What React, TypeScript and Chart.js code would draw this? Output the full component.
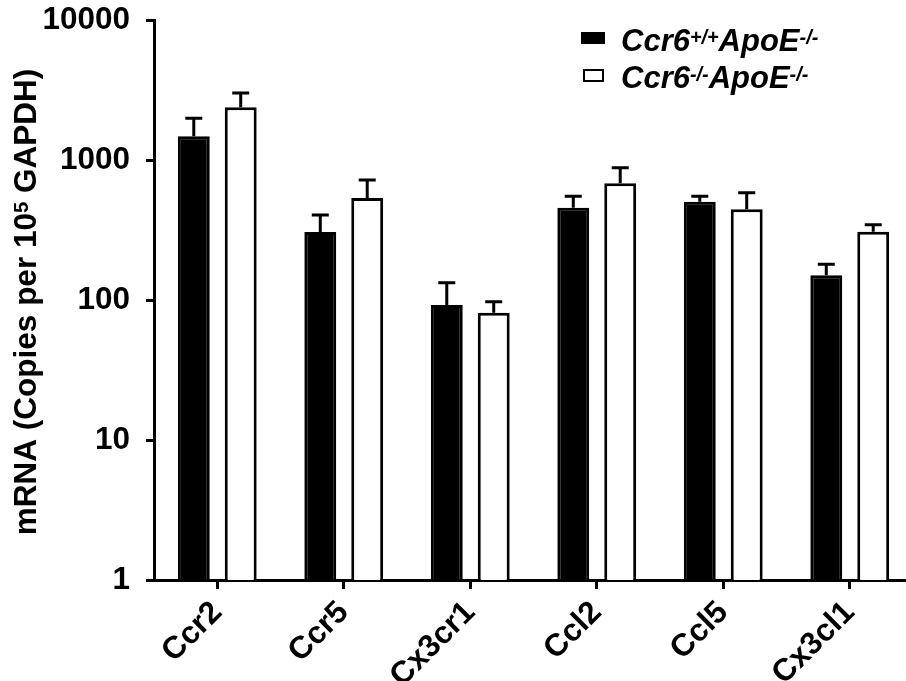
import React, { useEffect, useRef } from 'react';
import { Chart, registerables } from 'chart.js';

Chart.register(...registerables);

const categories = ['Ccr2', 'Ccr5', 'Cx3cr1', 'Ccl2', 'Ccl5', 'Cx3cl1'];
const wtMean = [1480, 306, 92, 456, 504, 150];
const wtSem = [510, 99, 41, 94, 46, 30];
const koMean = [2380, 535, 81, 681, 444, 307];
const koSem = [630, 185, 16, 200, 140, 38];
const yTicks = [1, 10, 100, 1000, 10000];
const legendWt = [
  { t: 'Ccr6' },
  { t: '+/+', sup: true },
  { t: 'ApoE' },
  { t: '-/-', sup: true },
];
const legendKo = [
  { t: 'Ccr6' },
  { t: '-/-', sup: true },
  { t: 'ApoE' },
  { t: '-/-', sup: true },
];
const yTitle = [
  { t: 'mRNA (Copies per 10' },
  { t: '5', sup: true },
  { t: ' GAPDH)' },
];

const FONT = "Arial, 'Liberation Sans', Helvetica, sans-serif";

type Seg = { t: string; sup?: boolean };

function fontStr(size: number, italic: boolean) {
  return `${italic ? 'italic ' : ''}bold ${size}px ${FONT}`;
}

function richWidth(ctx: CanvasRenderingContext2D, segs: Seg[], size: number, italic: boolean) {
  let w = 0;
  for (const s of segs) {
    ctx.font = fontStr(s.sup ? size * 0.64 : size, italic);
    w += ctx.measureText(s.t).width;
  }
  return w;
}

function drawRich(ctx: CanvasRenderingContext2D, segs: Seg[], x: number, y: number, size: number, italic: boolean) {
  let cx = x;
  ctx.textAlign = 'left';
  ctx.textBaseline = 'alphabetic';
  for (const s of segs) {
    const sz = s.sup ? size * 0.64 : size;
    ctx.font = fontStr(sz, italic);
    ctx.fillText(s.t, cx, s.sup ? y - size * 0.24 : y);
    cx += ctx.measureText(s.t).width;
  }
}

const errorBars = {
  id: 'errorBars',
  afterDatasetsDraw(chart: any) {
    const ctx = chart.ctx as CanvasRenderingContext2D;
    const y = chart.scales.y;
    const sems = [wtSem, koSem];
    chart.data.datasets.forEach((ds: any, di: number) => {
      const meta = chart.getDatasetMeta(di);
      meta.data.forEach((bar: any, i: number) => {
        const v = ds.data[i] as number;
        const top = y.getPixelForValue(v + sems[di][i]);
        const base = y.getPixelForValue(v);
        ctx.save();
        ctx.strokeStyle = '#000';
        ctx.lineWidth = 3;
        ctx.beginPath();
        ctx.moveTo(bar.x, base);
        ctx.lineTo(bar.x, top);
        ctx.moveTo(bar.x - 8.5, top);
        ctx.lineTo(bar.x + 8.5, top);
        ctx.stroke();
        ctx.restore();
      });
    });
  },
};

const annotations = {
  id: 'annotations',
  afterDraw(chart: any) {
    const ctx = chart.ctx as CanvasRenderingContext2D;
    ctx.save();
    ctx.fillStyle = '#000';
    // y-axis title
    const size = 31.5;
    const w = richWidth(ctx, yTitle, size, false);
    ctx.save();
    ctx.translate(36, 302);
    ctx.rotate(-Math.PI / 2);
    drawRich(ctx, yTitle, -w / 2, 0, size, false);
    ctx.restore();
    // legend
    ctx.fillStyle = '#000';
    ctx.fillRect(581, 32, 24, 12);
    ctx.strokeStyle = '#000';
    ctx.lineWidth = 2;
    ctx.strokeRect(584, 70, 19, 11);
    drawRich(ctx, legendWt, 621, 51, 31, true);
    drawRich(ctx, legendKo, 621, 88, 31, true);
    ctx.restore();
  },
};

export default function App() {
  const ref = useRef<HTMLCanvasElement | null>(null);
  useEffect(() => {
    if (!ref.current) return;
    const tickFont = { size: 31.5, weight: 'bold' as const, family: FONT };
    const chart = new Chart(ref.current, {
      type: 'bar',
      data: {
        labels: categories,
        datasets: [
          {
            label: 'Ccr6+/+ApoE-/-',
            data: wtMean,
            backgroundColor: '#000',
            borderColor: '#000',
            borderWidth: 3,
            categoryPercentage: 0.742,
            barPercentage: 0.68,
          },
          {
            label: 'Ccr6-/-ApoE-/-',
            data: koMean,
            backgroundColor: '#fff',
            borderColor: '#000',
            borderWidth: 3,
            categoryPercentage: 0.742,
            barPercentage: 0.68,
          },
        ],
      },
      options: {
        responsive: false,
        animation: false,
        layout: { padding: { top: 20, right: 7, left: 0, bottom: 0 } },
        plugins: { legend: { display: false }, tooltip: { enabled: false } },
        scales: {
          x: {
            type: 'category',
            offset: true,
            grid: {
              display: true,
              drawOnChartArea: false,
              offset: false,
              tickLength: 9,
              tickWidth: 3,
              tickColor: '#000',
            },
            border: { display: true, color: '#000', width: 3 },
            ticks: {
              font: tickFont,
              color: '#000',
              maxRotation: 45,
              minRotation: 45,
              padding: 5,
            },
            afterFit: (s: any) => {
              s.height = 101;
            },
          },
          y: {
            type: 'logarithmic',
            min: 1,
            max: 10000,
            afterBuildTicks: (s: any) => {
              s.ticks = yTicks.map((v) => ({ value: v }));
            },
            grid: {
              drawOnChartArea: false,
              tickLength: 8,
              tickWidth: 3,
              tickColor: '#000',
            },
            border: { display: true, color: '#000', width: 3 },
            ticks: {
              callback: (v: any) => String(v),
              font: { ...tickFont, lineHeight: 0.2 },
              color: '#000',
              padding: 16,
            },
            afterFit: (s: any) => {
              s.width = 154;
            },
          },
        },
      },
      plugins: [errorBars, annotations],
    });
    return () => chart.destroy();
  }, []);
  return (
    <div style={{ position: 'fixed', left: 0, top: 0, width: 906, height: 681, overflow: 'hidden', background: '#fff' }}>
      <canvas ref={ref} width={920} height={681} style={{ width: 920, height: 681, display: 'block' }} />
    </div>
  );
}
